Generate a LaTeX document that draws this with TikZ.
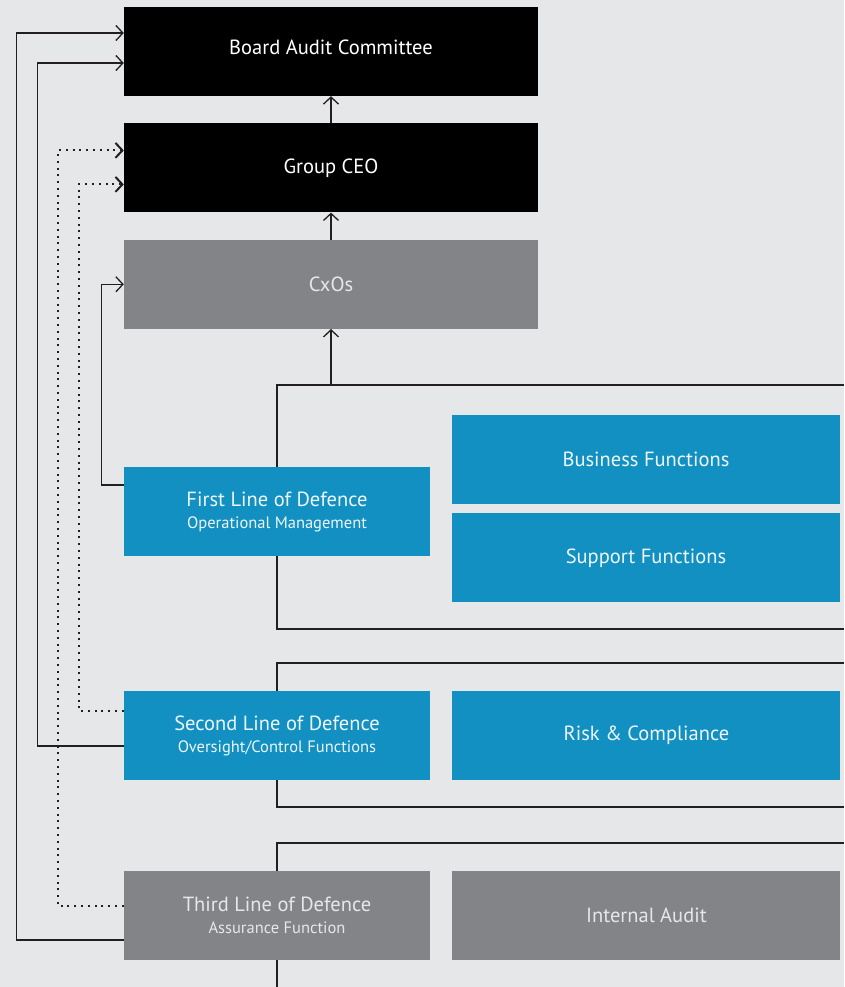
\documentclass[tikz,border=0pt]{standalone}
\usepackage{fontspec}
\setmainfont{PT Sans}
\usepackage{tikz}
\usetikzlibrary{arrows.meta,positioning}
\definecolor{defBg}{HTML}{E6E7E9}
\definecolor{defBlue}{HTML}{1290C1}
\definecolor{defGray}{HTML}{838487}
\definecolor{defInk}{HTML}{231F20}
\definecolor{defText}{HTML}{EEF6FA}
\newcommand{\subtext}[1]{{\fontsize{16.5}{18}\selectfont #1}}
\tikzset{
  topbox/.style={rectangle, fill=black, text=white, minimum width=414pt, minimum height=89pt, inner sep=0pt, font=\fontsize{20.5}{22}\selectfont},
  midbox/.style={topbox, fill=defGray, text=defBg},
  linebox/.style={rectangle, fill=defBlue, text=defText, align=center, minimum width=306pt, minimum height=89pt, inner sep=0pt, font=\fontsize{20.5}{22}\selectfont},
  greybox/.style={linebox, fill=defGray, text=defBg},
  unitbox/.style={linebox, minimum width=388pt},
  auditbox/.style={unitbox, fill=defGray, text=defBg},
  arr/.style={-{Straight Barb[length=7pt,width=15pt]}, line width=1.3pt, draw=defInk},
  link/.style={line width=1.3pt, draw=defInk},
  dots/.style={arr, line width=2pt, dash pattern=on 2pt off 4.8pt}
}
\begin{document}
\begin{tikzpicture}[x=1pt, y=-1pt]
\fill[defBg] (0,0) rectangle (844,987);
\useasboundingbox (0,0) rectangle (844,987);
% top of the chain
\node[topbox, text depth=8pt] (board) at (331,51.5) {Board Audit Committee};
\node[topbox, below=27pt of board] (ceo) {Group CEO};
\node[midbox, below=27pt of ceo] (cxo) {CxOs};
% the three lines
\node[linebox] (first) at (277,511.5) {First Line of Defence\\[0pt]\subtext{Operational Management}};
\node[unitbox] (business) at (646,459.5) {Business Functions};
\node[unitbox, below=9pt of business] (support) {Support Functions};
\node[linebox] (second) at (277,735.5) {Second Line of Defence\\[0pt]\subtext{Oversight/Control Functions}};
\node[unitbox, right=22pt of second] (risk) {Risk \& Compliance};
\node[greybox] (third) at (277,915.5) {Third Line of Defence\\[0pt]\subtext{Assurance Function}};
\node[auditbox, right=22pt of third] (audit) {Internal Audit};
% brackets
\coordinate (b1) at (844,385);
\coordinate (b1s) at (844,629);
\coordinate (b2) at (844,663);
\coordinate (b2s) at (844,807);
\coordinate (b3) at (844,843);
\coordinate (b3s) at (277,987);
\draw[link] (first.north) |- (b1);
\draw[link] (first.south) |- (b1s);
\draw[link] (second.north) |- (b2);
\draw[link] (second.south) |- (b2s);
\draw[link] (third.north) |- (b3);
\draw[link] (third.south) -- (b3s);
\draw[arr] (cxo.south |- b1) -- (cxo.south);
\draw[arr] (cxo.north) -- (ceo.south);
\draw[arr] (ceo.north) -- (board.south);
% reporting lines on the left
\draw[arr] ([yshift=-24.5pt]third.west) -- ++(-107,0) |- ([yshift=18.5pt]board.west);
\draw[arr] ([yshift=-10.5pt]second.west) -- ++(-86,0) |- ([yshift=-11.5pt]board.west);
\draw[dots] ([yshift=9.5pt]third.west) -- ++(-66,0) |- ([yshift=17.5pt]ceo.west);
\draw[dots] ([yshift=24.5pt]second.west) -- ++(-45,0) |- ([yshift=-16.5pt]ceo.west);
\draw[arr] ([yshift=26.5pt]first.west) -- ++(-22,0) |- (cxo.west);
\end{tikzpicture}
\end{document}
